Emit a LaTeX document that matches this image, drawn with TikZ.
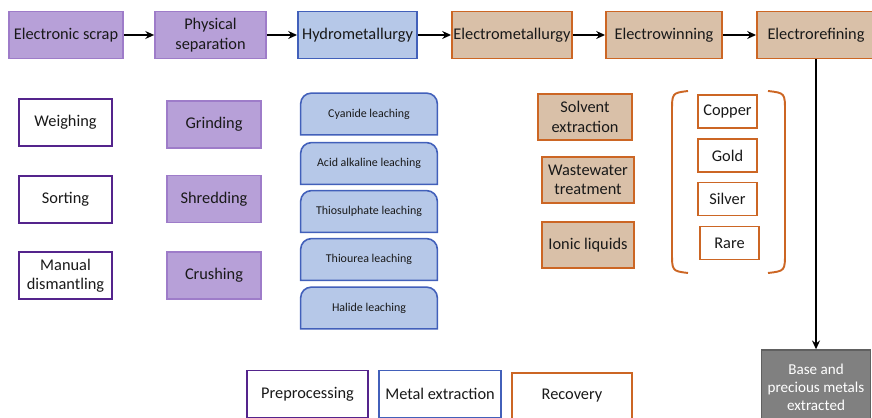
\documentclass[tikz,border=0pt]{standalone}
\usepackage{fontspec}
\setmainfont{Carlito}
\usetikzlibrary{arrows.meta,backgrounds}
\definecolor{PrepClr}{RGB}{84,36,140}
\definecolor{PhysFill}{RGB}{183,160,216}
\definecolor{PhysClr}{RGB}{158,124,201}
\definecolor{HydroFill}{RGB}{182,200,232}
\definecolor{HydroClr}{RGB}{66,96,186}
\definecolor{RecFill}{RGB}{217,192,168}
\definecolor{RecClr}{RGB}{204,102,36}
\definecolor{OutFill}{RGB}{128,128,128}
\definecolor{OutClr}{RGB}{96,96,96}
\definecolor{TxtClr}{RGB}{25,25,25}

\begin{document}
\begin{tikzpicture}[x=0.02cm,y=-0.02cm,
  box/.style={rectangle,inner sep=0pt,align=center,text=TxtClr,
    font=\fontsize{9.3}{11}\selectfont,minimum height=0.94cm},
  prep/.style={box,draw=PrepClr,line width=1.1pt,fill=white,minimum width=1.86cm},
  phys/.style={box,draw=PhysClr,line width=1pt,fill=PhysFill},
  hydro/.style={box,draw=HydroClr,line width=1.1pt,fill=HydroFill},
  recov/.style={box,draw=RecClr,line width=1.1pt,fill=RecFill},
  leach/.style={box,font=\fontsize{6.8}{8}\selectfont,minimum width=2.72cm,minimum height=0.82cm},
  leachline/.style={draw=HydroClr,line width=0.9pt,fill=HydroFill},
  metal/.style={box,draw=RecClr,line width=0.6pt,fill=white,minimum width=1.18cm,minimum height=0.66cm},
  legend/.style={box,line width=1.1pt,fill=white},
  flow/.style={-{Stealth[length=5pt,width=4.5pt]},line width=1.1pt,black}]

\useasboundingbox (0,0) rectangle (872,418);

\node[phys,minimum width=2.28cm] (ES) at (66,35) {Electronic scrap};
\node[phys,minimum width=2.22cm] (PS) at (210.5,35) {Physical\\separation};
\node[hydro,minimum width=2.38cm] (HM) at (357.5,35) {Hydrometallurgy};
\node[recov,minimum width=2.4cm] (EM) at (512,35) {Electrometallurgy};
\node[recov,minimum width=2.32cm] (EW) at (664,35) {Electrowinning};
\node[recov,minimum width=2.36cm] (ER) at (816,35) {Electrorefining};

\draw[flow] (ES) -- (PS);
\draw[flow] (PS) -- (HM);
\draw[flow] (HM) -- (EM);
\draw[flow] (EM) -- (EW);
\draw[flow] (EW) -- (ER);

\node[prep] (W) at (65.5,122.5) {Weighing};
\node[prep] (S) at (65.5,199.5) {Sorting};
\node[prep] (MD) at (65.5,275.5) {Manual\\dismantling};

\node[phys,minimum width=1.88cm] (G) at (214,124.5) {Grinding};
\node[phys,minimum width=1.88cm] (SH) at (214,199) {Shredding};
\node[phys,minimum width=1.88cm] (C) at (214,275.5) {Crushing};

\node[leach] (L1) at (369,114) {Cyanide leaching};
\node[leach] (L2) at (369,163.5) {Acid alkaline leaching};
\node[leach] (L3) at (369,211.5) {Thiosulphate leaching};
\node[leach] (L4) at (369,259.5) {Thiourea leaching};
\node[leach] (L5) at (369,308) {Halide leaching};
\begin{scope}[on background layer]
\foreach \n in {L1,L2,L3,L4,L5}
  \path[leachline] (\n.south west) -- ([yshift=-6pt]\n.north west)
    arc[start angle=180,end angle=90,radius=6pt] -- ([xshift=-6pt]\n.north east)
    arc[start angle=90,end angle=0,radius=6pt] -- (\n.south east) -- cycle;
\end{scope}

\node[recov,minimum width=1.88cm,minimum height=0.92cm] (SE) at (585,117) {Solvent\\extraction};
\node[recov,minimum width=1.84cm,minimum height=0.92cm] (WT) at (588,180) {Wastewater\\treatment};
\node[recov,minimum width=1.84cm,minimum height=0.92cm] (IL) at (588,245) {Ionic liquids};

\draw[RecClr,line width=1.1pt] (688,91) .. controls (672,93) .. (672,112) -- (672,252)
  .. controls (672,271) .. (688,273);
\draw[RecClr,line width=1.1pt] (768,91) .. controls (785,93) .. (785,112) -- (785,252)
  .. controls (785,271) .. (768,273);

\node[metal] (Cu) at (727.5,111.5) {Copper};
\node[metal] (Au) at (727.5,155.5) {Gold};
\node[metal] (Ag) at (727.5,199) {Silver};
\node[metal] (Re) at (729.5,243) {Rare};

\node[box,fill=OutFill,draw=OutClr,line width=0.8pt,text=white,minimum width=2.18cm,
  minimum height=1.48cm,font=\fontsize{8.6}{10.2}\selectfont] (BM) at (816,387)
  {Base and\\precious metals\\extracted};
\draw[flow] (ER) -- (BM);

\node[legend,draw=PrepClr,minimum width=2.42cm] (LP) at (307.5,394) {Preprocessing};
\node[legend,draw=HydroClr,minimum width=2.44cm] (LM) at (440,394) {Metal extraction};
\node[legend,draw=RecClr,minimum width=2.4cm,minimum height=0.92cm] (LR) at (572,396) {Recovery};

\end{tikzpicture}
\end{document}
